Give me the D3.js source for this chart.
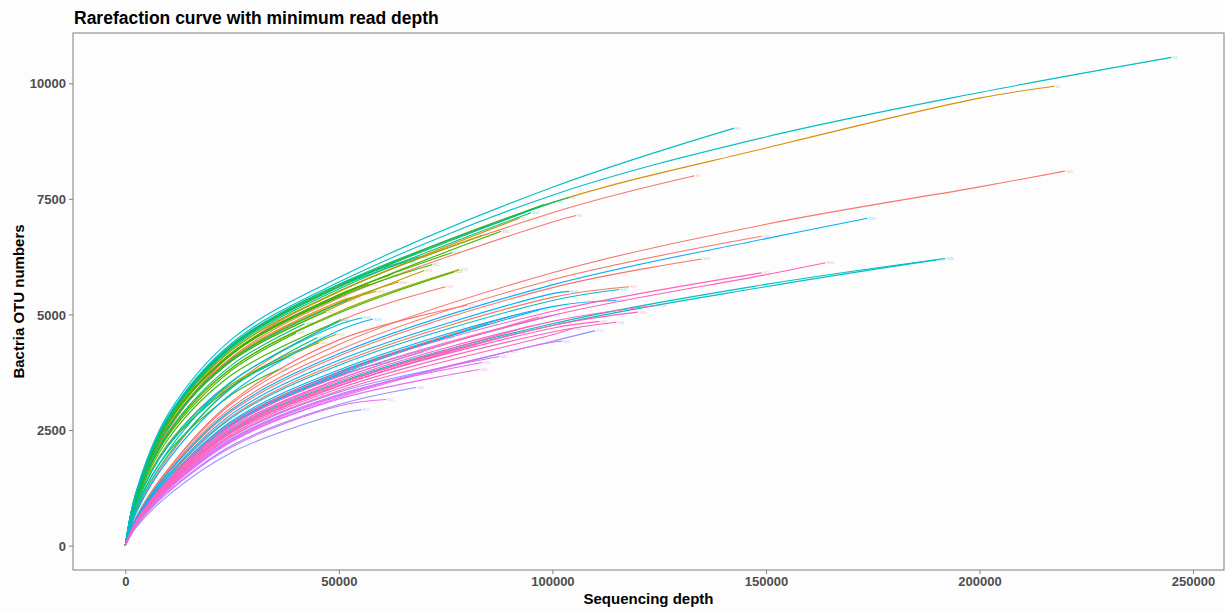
<!DOCTYPE html>
<html>
<head>
<meta charset="utf-8">
<script src="https://cdn.jsdelivr.net/npm/d3@7"></script>
<style>
  body { margin: 0; background: #fdfdfd; }
  svg { display: block; font-family: "Liberation Sans", Arial, sans-serif; }
  .axis text { fill: #4d4d4d; font-size: 13px; font-weight: bold; }
  .axis line, .axis path { stroke: #7f7f7f; }
  .label { fill: #000; font-size: 15px; font-weight: bold; }
</style>
</head>
<body>
<svg id="chart" width="1225" height="611"></svg>
<script>
// ggplot hue palette, one colour per sample group
const groupColors = ['#F8766D', '#D89000', '#A3A500', '#39B600', '#00BF7D',
  '#00BFC4', '#00B0F6', '#9590FF', '#E76BF3', '#FF62BC']

const knotDepths = [0, 2500, 10000, 25000, 50000, 100000, 150000, 200000]

// group of each sample (index into groupColors)
const sampleGroup = [
  5, 1, 5, 0, 4, 4, 3, 0, 1, 2, 3, 3, 2, 3, 2, 1, 3, 5, 2, 2, 4, 3, 4, 3, 4, 1, 4, 4, 3, 2, 3, 4, 1, 3,
  0, 0, 6, 5, 5, 9, 9, 5, 6, 9, 9, 8, 7, 8, 8, 7, 8, 7,
  9, 9, 9, 7, 6, 0, 5, 6, 7, 9, 8, 6, 9, 9, 0, 0, 9, 7, 0, 6,
  5, 6, 0, 4
]

// final sequencing depth of each sample
const endDepth = [
  245000, 217600, 142600, 133300, 104000, 101000, 98000, 105600, 92300, 83600, 76600, 71900, 78200, 77000,
  58800, 53200, 47000, 55500, 49400, 45400, 37700, 36000, 66000, 62000, 69000, 57000, 52000, 42000, 40000,
  64000, 88000, 95000, 70000, 50500,
  220000, 149000, 173800, 192000, 190000, 164000, 149000, 115700, 104000, 115000, 111000, 102300, 87600,
  83600, 82900, 68100, 61100, 55300,
  97000, 95000, 92000, 100000, 97000, 90000, 85000, 75000, 70000, 80000, 90000, 60000, 120000, 125000,
  118000, 135000, 105000, 110000, 80000, 115000,
  50000, 58000, 75000, 45000
]

// OTU count reached at the final depth
const endOtu = [
  10560, 9935, 9030, 8000, 7530, 7450, 7380, 7140, 7080, 6710, 6340, 6080, 5970, 5920,
  5500, 5370, 5060, 4930, 4570, 4390, 4070, 3810, 6150, 5850, 6250, 5650, 5300, 4800, 4600,
  5700, 6800, 7200, 5950, 4900,
  8100, 6690, 7080, 6210, 6180, 6120, 5900, 5540, 5500, 4830, 4850, 4420, 4090,
  3960, 3810, 3420, 3160, 2940,
  4950, 4750, 4600, 4980, 5100, 4950, 4800, 4500, 4200, 4300, 4200, 3950, 5050, 5200,
  5600, 6200, 4700, 4650, 5200, 5300,
  4850, 4900, 5600, 4500
]

// OTU counts at knotDepths (only the knots below the sample's final depth)
const knotOtus = [
  [0, 1140, 2790, 4390, 5700, 7580, 8840, 9800],
  [0, 1120, 2750, 4320, 5610, 7420, 8600, 9680],
  [0, 1160, 2840, 4470, 5800, 7750],
  [0, 950, 2500, 4150, 5500, 7200],
  [0, 1130, 2770, 4350, 5650, 7420],
  [0, 1120, 2740, 4310, 5600, 7420],
  [0, 1120, 2750, 4330, 5620],
  [0, 1000, 2500, 4080, 5350, 7000],
  [0, 1100, 2690, 4230, 5490],
  [0, 1100, 2700, 4240, 5500],
  [0, 1080, 2660, 4170, 5420],
  [0, 1080, 2640, 4140, 5380],
  [0, 980, 2400, 3840, 5060],
  [0, 990, 2420, 3850, 5030],
  [0, 1050, 2570, 4030, 5240],
  [0, 1060, 2590, 4070, 5280],
  [0, 1040, 2540, 4000],
  [0, 860, 2180, 3560, 4780],
  [0, 900, 2200, 3500],
  [0, 880, 2160, 3460],
  [0, 880, 2150, 3450],
  [0, 820, 2020, 3270],
  [0, 1120, 2740, 4300, 5590],
  [0, 1090, 2660, 4180, 5430],
  [0, 1130, 2770, 4350, 5650],
  [0, 1080, 2660, 4170, 5420],
  [0, 1050, 2560, 4030, 5230],
  [0, 1000, 2450, 3910],
  [0, 960, 2370, 3800],
  [0, 1050, 2570, 4040, 5250],
  [0, 1080, 2650, 4160, 5400],
  [0, 1110, 2720, 4270, 5550],
  [0, 1040, 2550, 4000, 5200],
  [0, 930, 2300, 3700, 4870],
  [0, 610, 1650, 3080, 4350, 5900, 6950, 7760],
  [0, 590, 1610, 3000, 4230, 5750],
  [0, 580, 1580, 2950, 4150, 5640, 6640],
  [0, 490, 1340, 2510, 3530, 4800, 5650],
  [0, 480, 1320, 2480, 3500, 4760, 5600],
  [0, 510, 1390, 2600, 3660, 4980, 5860],
  [0, 520, 1420, 2650, 3730, 5070],
  [0, 550, 1480, 2770, 3900, 5300],
  [0, 560, 1520, 2850, 4010, 5450],
  [0, 480, 1290, 2410, 3400, 4620],
  [0, 480, 1310, 2460, 3460, 4700],
  [0, 450, 1230, 2290, 3230, 4400],
  [0, 460, 1260, 2360, 3320],
  [0, 460, 1240, 2320, 3270],
  [0, 440, 1200, 2250, 3170],
  [0, 430, 1160, 2170, 3050],
  [0, 420, 1150, 2140, 3020],
  [0, 390, 1080, 2020, 2850],
  [0, 500, 1370, 2560, 3600],
  [0, 490, 1330, 2490, 3500],
  [0, 480, 1310, 2450, 3450],
  [0, 510, 1390, 2600, 3660],
  [0, 530, 1430, 2660, 3750],
  [0, 530, 1430, 2670, 3760],
  [0, 520, 1410, 2630, 3700],
  [0, 520, 1410, 2640, 3720],
  [0, 500, 1370, 2560, 3600],
  [0, 480, 1310, 2450, 3450],
  [0, 450, 1220, 2270, 3200],
  [0, 520, 1400, 2610, 3680],
  [0, 490, 1330, 2490, 3500, 4760],
  [0, 500, 1350, 2530, 3560, 4850],
  [0, 550, 1500, 2800, 3950, 5370],
  [0, 570, 1560, 2910, 4100, 5580],
  [0, 470, 1270, 2380, 3350, 4560],
  [0, 455, 1240, 2310, 3250, 4420],
  [0, 600, 1650, 3120, 4450],
  [0, 530, 1440, 2700, 3800, 5170],
  [0, 800, 2050, 3550],
  [0, 700, 1850, 3300, 4650],
  [0, 720, 1900, 3450, 4850],
  [0, 760, 1950, 3420]
]

const xTicks = [0, 50000, 100000, 150000, 200000, 250000]
const yTicks = [0, 2500, 5000, 7500, 10000]

const svg = d3.select('#chart')
const width = +svg.attr('width')
const height = +svg.attr('height')
const margin = { top: 33, right: 1, bottom: 41, left: 73 }
const innerWidth = width - margin.left - margin.right
const innerHeight = height - margin.top - margin.bottom

// samples as point lists, drawn in group order like ggplot does
const samples = endDepth.map((d, i) => ({
  name: 'S' + (i + 1),
  group: sampleGroup[i],
  points: knotOtus[i].map((v, j) => [knotDepths[j], v]).concat([[d, endOtu[i]]])
})).sort((a, b) => a.group - b.group)

// scales with ggplot's 5% expansion
const maxX = d3.max(endDepth)
const maxY = d3.max(endOtu)
const xScale = d3.scaleLinear()
  .domain([-0.05 * maxX, 1.05 * maxX])
  .range([0, innerWidth])
const yScale = d3.scaleLinear()
  .domain([-0.05 * maxY, 1.05 * maxY])
  .range([innerHeight, 0])

svg.append('text')
  .attr('x', margin.left + 1)
  .attr('y', 24)
  .style('font-size', '17.5px')
  .style('font-weight', 'bold')
  .text('Rarefaction curve with minimum read depth')

const g = svg.append('g')
  .attr('transform', `translate(${ margin.left }, ${ margin.top })`)

g.append('rect')
  .attr('width', innerWidth)
  .attr('height', innerHeight)
  .style('fill', '#fdfdfd')

// axes
const xAxisG = g.append('g')
  .attr('class', 'axis')
  .attr('transform', `translate(0, ${ innerHeight })`)
  .call(d3.axisBottom(xScale).tickValues(xTicks).tickFormat(d3.format('d'))
    .tickSizeInner(4).tickSizeOuter(0).tickPadding(3))
const yAxisG = g.append('g')
  .attr('class', 'axis')
  .call(d3.axisLeft(yScale).tickValues(yTicks).tickFormat(d3.format('d'))
    .tickSizeInner(4).tickSizeOuter(0).tickPadding(3))
xAxisG.select('.domain').remove()
yAxisG.select('.domain').remove()
yAxisG.selectAll('text').attr('dy', '0.36em')

// curves
const line = d3.line()
  .x(d => xScale(d[0]))
  .y(d => yScale(d[1]))
  .curve(d3.curveCatmullRom.alpha(0.5))

g.append('g')
  .selectAll('path')
  .data(samples)
  .enter()
  .append('path')
  .attr('d', d => line(d.points))
  .style('fill', 'none')
  .style('stroke', d => groupColors[d.group])
  .style('stroke-width', 1.1)

// tiny sample labels at the curve ends
g.append('g')
  .selectAll('text')
  .data(samples)
  .enter()
  .append('text')
  .attr('x', d => xScale(d.points[d.points.length - 1][0]) + 1)
  .attr('y', d => yScale(d.points[d.points.length - 1][1]) + 1.5)
  .style('font-size', '4px')
  .style('fill', d => groupColors[d.group])
  .style('opacity', 0.5)
  .text(d => d.name)

// panel border
g.append('rect')
  .attr('width', innerWidth)
  .attr('height', innerHeight)
  .style('fill', 'none')
  .style('stroke', '#7f7f7f')
  .style('stroke-width', 1)

// axis titles
svg.append('text')
  .attr('class', 'label')
  .attr('x', margin.left + innerWidth / 2)
  .attr('y', 604)
  .attr('text-anchor', 'middle')
  .text('Sequencing depth')
svg.append('text')
  .attr('class', 'label')
  .attr('transform', 'rotate(-90)')
  .attr('x', -(margin.top + innerHeight / 2))
  .attr('y', 24)
  .attr('text-anchor', 'middle')
  .text('Bactria OTU numbers')
</script>
</body>
</html>
